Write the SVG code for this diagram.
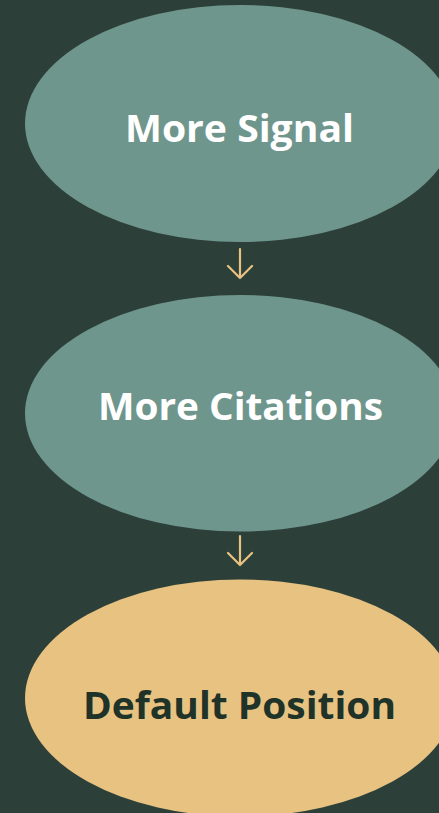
<svg xmlns="http://www.w3.org/2000/svg" width="439" height="813" viewBox="0 0 439 813">
<style>
.lbl{font-family:"Open Sans","Liberation Sans",sans-serif;font-weight:700;font-size:37px;text-anchor:middle}
.teal{fill:#6f968d}
.gold{fill:#e8c281}
.w{fill:#ffffff}
.d{fill:#1f3329}
.arr{stroke:#e8c281;stroke-width:2.2;fill:none;stroke-linecap:round;stroke-linejoin:round}
</style>
<rect width="439" height="813" fill="#2c4039"/>
<g id="connectors">
<path class="arr" d="M240 249V278M228 266L240 278L252 266"/>
<path class="arr" d="M240 536V565M228 553L240 565L252 553"/>
</g>
<g id="node-signal">
<ellipse class="teal" cx="240" cy="123.5" rx="215" ry="118.5"/>
<text class="lbl w" x="239.5" y="141.5" textLength="229" lengthAdjust="spacingAndGlyphs">More Signal</text>
</g>
<g id="node-citations">
<ellipse class="teal" cx="240" cy="413.3" rx="215" ry="118.3"/>
<text class="lbl w" x="240.5" y="420" textLength="285" lengthAdjust="spacingAndGlyphs">More Citations</text>
</g>
<g id="node-default">
<ellipse class="gold" cx="240" cy="698" rx="215" ry="118.5"/>
<text class="lbl d" x="239.5" y="719" textLength="313" lengthAdjust="spacingAndGlyphs">Default Position</text>
</g>
</svg>
